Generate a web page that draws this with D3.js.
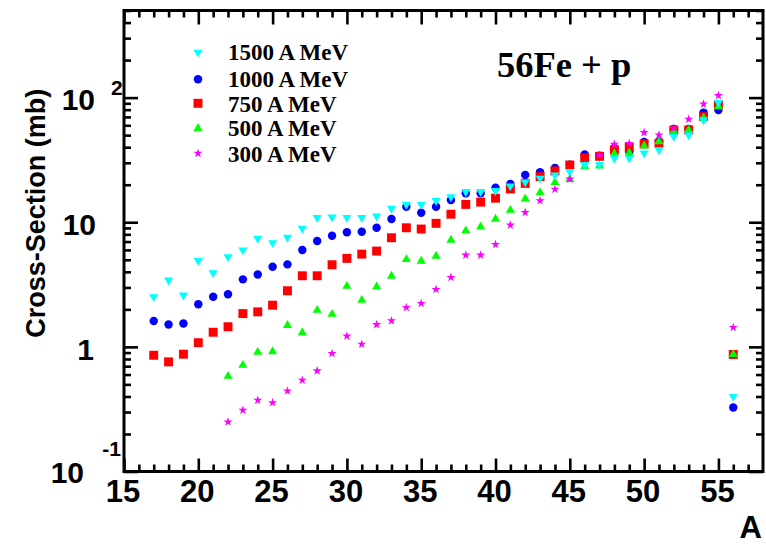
<!DOCTYPE html>
<html><head><meta charset="utf-8">
<script src="https://cdn.jsdelivr.net/npm/d3@7"></script>
<style>body{margin:0;background:#fff}svg{display:block}</style>
</head><body>
<svg id="chart" width="766" height="544"></svg>
<script>
// ---- data ----
const massNumbers = [17,18,19,20,21,22,23,24,25,26,27,28,29,30,31,32,33,34,35,36,37,38,39,40,41,42,43,44,45,46,47,48,49,50,51,52,53,54,55,56];
const xs1500 = [2.52,3.43,2.60,4.91,3.93,5.28,5.98,7.42,6.84,7.56,8.93,10.9,11.0,10.9,10.9,11.2,12.9,13.9,13.9,14.9,16.0,17.6,17.6,17.9,19.5,21.0,22.5,23.9,25.5,29.0,29.0,32.7,32.7,35.9,38.0,48.8,50.2,66.2,91.2,0.40];
const xs1000 = [1.61,1.51,1.54,2.20,2.52,2.64,3.48,3.81,4.39,4.59,5.98,7.06,7.8,8.30,8.4,9.03,10.6,13.3,11.9,13.3,15.1,17.1,17.1,18.9,20.3,23.9,25.2,27.2,29.0,34.9,34.2,39.4,36.8,44,44.5,56,56,75.8,79.6,0.326];
const xs750 = [0.857,0.758,0.874,1.08,1.31,1.45,1.85,1.91,2.16,2.82,3.72,3.72,4.56,5.13,5.55,5.87,7.51,9.03,8.82,9.80,11.6,13.9,14.5,15.6,18.5,20.5,23.2,25.8,28.8,32.8,33.8,38.0,40.1,42.5,43.0,55.0,55.0,70.3,87.4,0.869];
const xs500 = [null,null,null,null,null,0.582,0.713,0.906,0.918,1.49,1.30,1.97,1.83,3.07,2.37,3.03,3.70,5.03,4.88,5.35,7.19,8.55,9.20,10.6,12.5,15.4,17.3,20.9,22.1,28.0,28.3,35.6,36.1,41.0,44.3,54.0,55.0,68.5,84.7,0.869];
const xs300 = [null,null,null,null,null,0.250,0.310,0.373,0.357,0.443,0.540,0.642,0.885,1.22,1.05,1.51,1.62,2.07,2.23,2.89,3.61,5.45,5.45,6.64,9.49,12.0,14.9,18.4,22.2,null,34.3,42.2,42.9,52.4,50.2,56.9,67.2,88.8,103.8,1.43];
const seriesLabels = ["1500 A MeV","1000 A MeV","750 A MeV","500 A MeV","300 A MeV"];
const xTickValues = [15,20,25,30,35,40,45,50,55];
const yMajorTicks = [0.1,1,10,100];
const titleText = "56Fe + p";
const yTitle = "Cross-Section (mb)";
const xTitle = "A";

// ---- layout ----
const W = 766, H = 544;
const L = 124, R = 763, T = 10.5, B = 471.5;
const svg = d3.select("#chart");
svg.append("rect").attr("width",W).attr("height",H).attr("fill","#fff");

const x = d3.scaleLinear().domain([15,58]).range([L,R]);
const y = d3.scaleLog().domain([0.1,500]).range([B,T]);

const sans = "'Liberation Sans', Arial, Helvetica, sans-serif";
const serif = "'Liberation Serif', 'Times New Roman', serif";

// minor ticks
const xMinor = d3.range(16,58).filter(v => v % 5 !== 0);
const yMinor = [];
[0.1,1,10,100].forEach(d => { for (let k=2;k<=9;k++){ const v=d*k; if (v<=500.001) yMinor.push(v);} });

function styleAxis(g){
  g.select(".domain").remove();
  g.selectAll("line").attr("stroke","#000").attr("stroke-width",2.6);
  g.selectAll("text").remove();
}
// bottom
svg.append("g").attr("transform",`translate(0,${B})`).call(d3.axisBottom(x).tickValues(xTickValues).tickSize(-13)).call(styleAxis);
svg.append("g").attr("transform",`translate(0,${B})`).call(d3.axisBottom(x).tickValues(xMinor).tickSize(-7)).call(styleAxis);
// top
svg.append("g").attr("transform",`translate(0,${T})`).call(d3.axisTop(x).tickValues(xTickValues).tickSize(-14)).call(styleAxis);
svg.append("g").attr("transform",`translate(0,${T})`).call(d3.axisTop(x).tickValues(xMinor).tickSize(-7)).call(styleAxis);
// left
svg.append("g").attr("transform",`translate(${L},0)`).call(d3.axisLeft(y).tickValues(yMajorTicks).tickSize(-14)).call(styleAxis);
svg.append("g").attr("transform",`translate(${L},0)`).call(d3.axisLeft(y).tickValues(yMinor).tickSize(-7)).call(styleAxis);
// right
svg.append("g").attr("transform",`translate(${R},0)`).call(d3.axisRight(y).tickValues(yMajorTicks).tickSize(-14)).call(styleAxis);
svg.append("g").attr("transform",`translate(${R},0)`).call(d3.axisRight(y).tickValues(yMinor).tickSize(-7)).call(styleAxis);

// frame
svg.append("rect").attr("x",L).attr("y",T).attr("width",R-L).attr("height",B-T)
  .attr("fill","none").attr("stroke","#000").attr("stroke-width",3);

// x tick labels
svg.append("g").selectAll("text").data(xTickValues).join("text")
  .attr("x", d => x(d)-1).attr("y", 502)
  .attr("text-anchor","middle").attr("font-family",sans).attr("font-weight","bold").attr("font-size",31)
  .text(d => d);

// y tick labels (ROOT-like exponent placement)
const yl = svg.append("g").attr("font-family",sans).attr("font-weight","bold").attr("fill","#000");
yl.append("text").attr("x",96).attr("y",y(10)+13).attr("text-anchor","end").attr("font-size",30).text("10");
yl.append("text").attr("x",94).attr("y",y(1)+13).attr("text-anchor","end").attr("font-size",30).text("1");
yl.append("text").attr("x",95).attr("y",y(100)+12).attr("text-anchor","end").attr("font-size",30).text("10");
yl.append("text").attr("x",111).attr("y",y(100)-3).attr("text-anchor","start").attr("font-size",21).text("2");
yl.append("text").attr("x",121).attr("y",y(0.1)-16).attr("text-anchor","end").attr("font-size",21).text("-1");
yl.append("text").attr("x",84).attr("y",y(0.1)+11).attr("text-anchor","end").attr("font-size",30).text("10");

// axis titles
svg.append("text").attr("transform",`translate(45,${(y(100)+y(1))/2 - 9}) rotate(-90)`)
  .attr("text-anchor","middle").attr("font-family",sans).attr("font-weight","bold").attr("font-size",27)
  .text(yTitle);
svg.append("text").attr("x",762).attr("y",538).attr("text-anchor","end")
  .attr("font-family",sans).attr("font-weight","bold").attr("font-size",31).text(xTitle);

// title
svg.append("text").attr("x",497).attr("y",77).attr("font-family",serif).attr("font-weight","bold")
  .attr("font-size",36.5).text(titleText);

// series
const seriesDefs = [
  {name: seriesLabels[0], values: xs1500, color:"#00ffff", type:d3.symbolTriangle, size:36, rot:180},
  {name: seriesLabels[1], values: xs1000, color:"#0000ff", type:d3.symbolCircle, size:56, rot:0},
  {name: seriesLabels[2], values: xs750, color:"#ff0000", type:d3.symbolSquare, size:80, rot:0},
  {name: seriesLabels[3], values: xs500, color:"#00ff00", type:d3.symbolTriangle, size:36, rot:0},
  {name: seriesLabels[4], values: xs300, color:"#ff00ff", type:d3.symbolStar, size:26, rot:0}
];
const drawOrder = [1,2,3,0,4];
drawOrder.forEach(i => {
  const s = seriesDefs[i];
  const pts = massNumbers.map((a,j) => ({a, v: s.values[j]})).filter(p => p.v != null);
  svg.append("g").selectAll("path").data(pts).join("path")
    .attr("d", d3.symbol().type(s.type).size(s.size))
    .attr("transform", p => `translate(${x(p.a)},${y(p.v)}) rotate(${s.rot})`)
    .attr("fill", s.color);
});

// legend
const legMarkerY = [52.3, 79.3, 103.3, 128.3, 153.3];
const legTextY = [60, 86.7, 111.7, 135.5, 161.7];
const leg = svg.append("g");
seriesDefs.forEach((s,i) => {
  leg.append("path").attr("d", d3.symbol().type(s.type).size(s.size))
    .attr("transform", `translate(198,${legMarkerY[i]}) rotate(${s.rot})`).attr("fill", s.color);
  leg.append("text").attr("x",228).attr("y",legTextY[i]).attr("font-family",serif)
    .attr("font-weight","bold").attr("font-size",23).text(s.name);
});
</script>
</body></html>
